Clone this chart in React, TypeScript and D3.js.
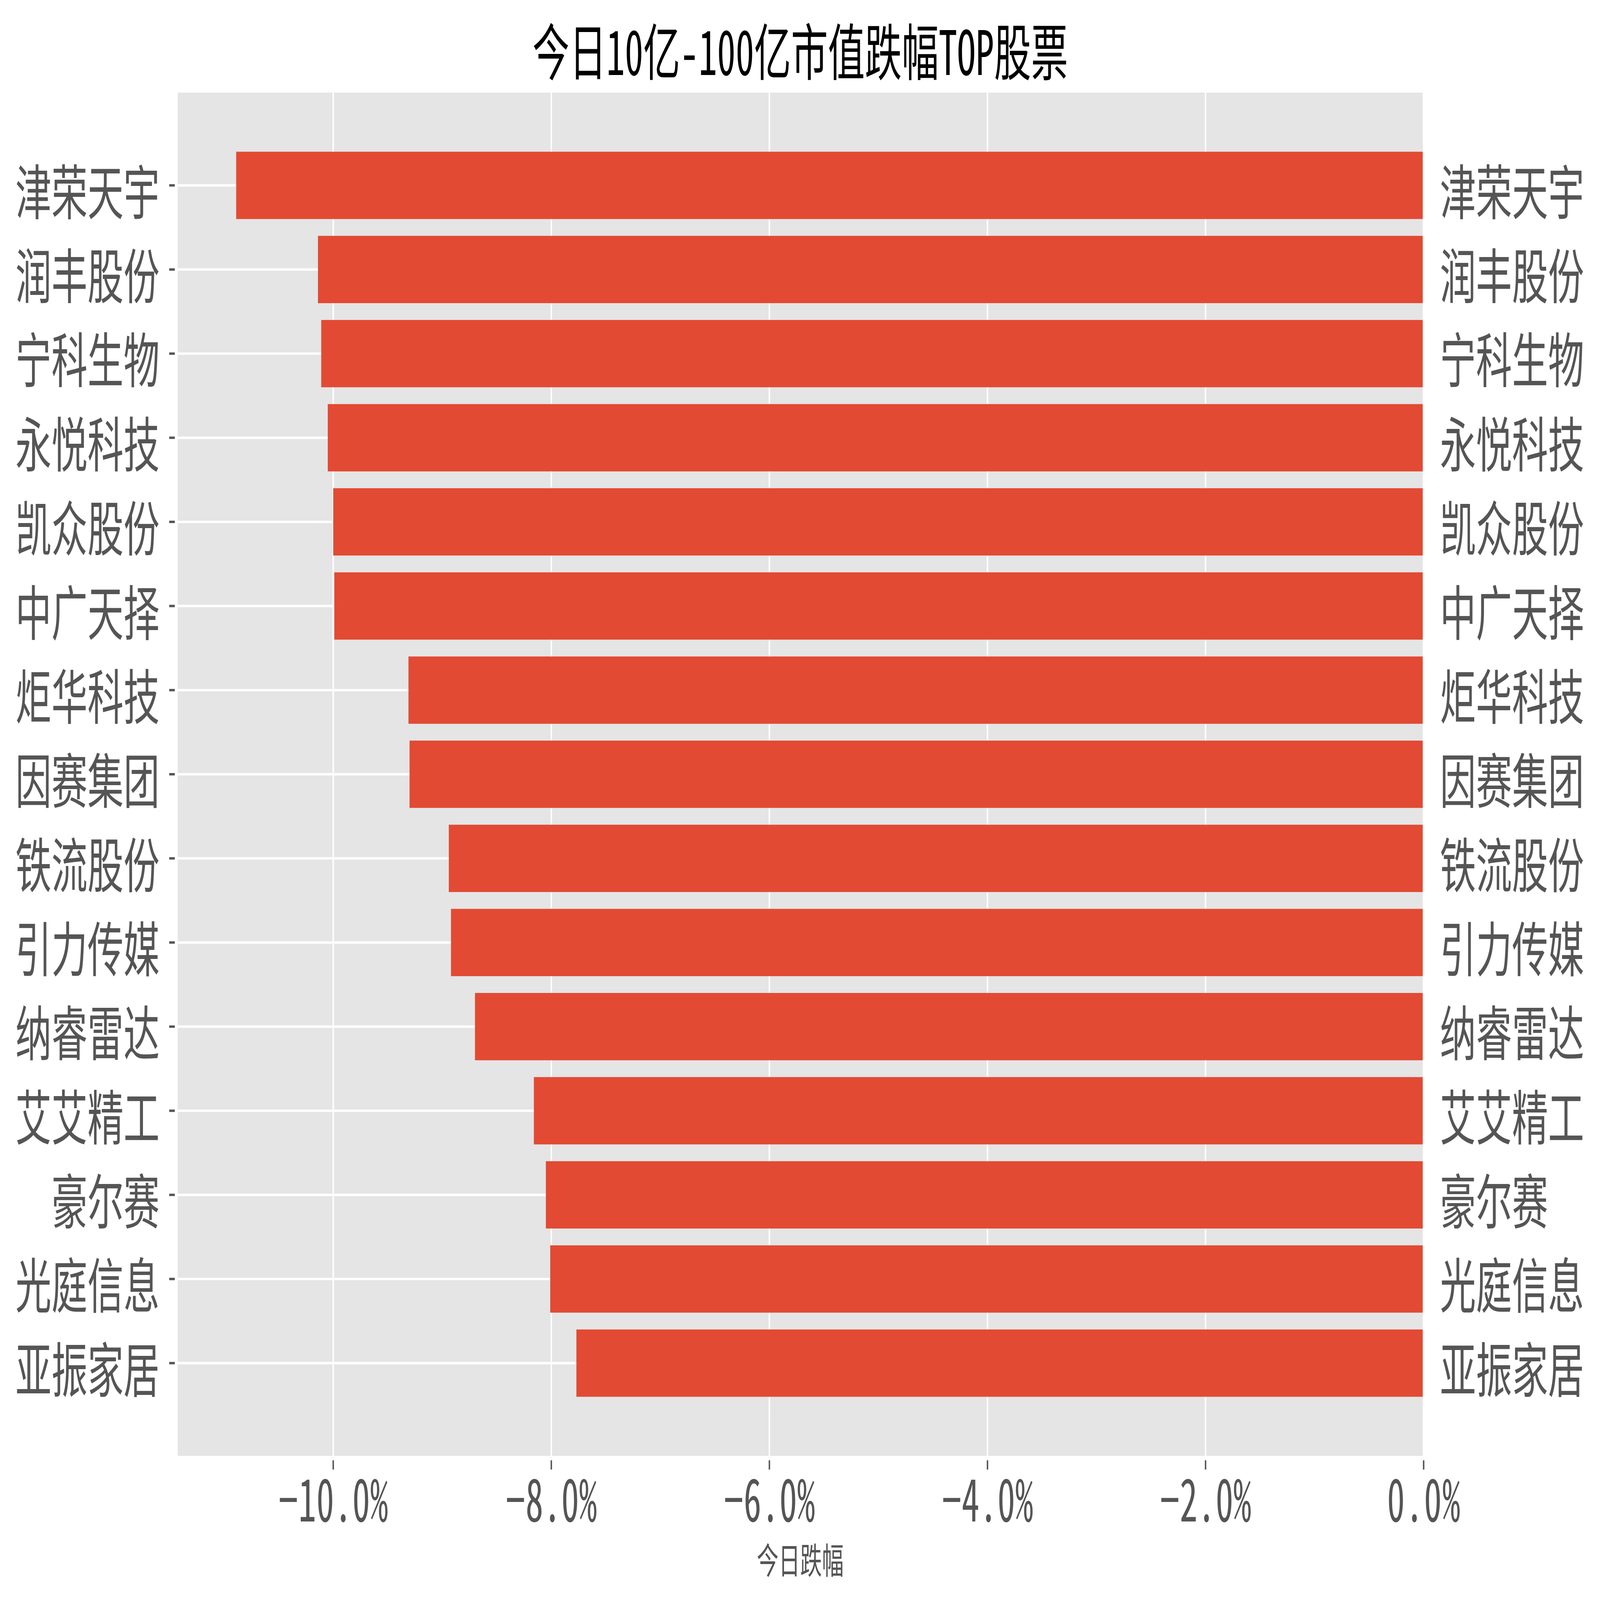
import * as d3 from "d3";

// 今日10亿-100亿市值跌幅TOP股票
const names = [
  "津荣天宇", "润丰股份", "宁科生物", "永悦科技", "凯众股份",
  "中广天择", "炬华科技", "因赛集团", "铁流股份", "引力传媒",
  "纳睿雷达", "艾艾精工", "豪尔赛", "光庭信息", "亚振家居",
];
const changes = [
  -10.89, -10.14, -10.11, -10.05, -10.0,
  -9.99, -9.31, -9.3, -8.94, -8.92,
  -8.7, -8.16, -8.05, -8.01, -7.77,
];
const xTicks = [-10, -8, -6, -4, -2, 0];

const W = 7149;
const H = 4318;
const margin = { top: 246, right: 788, bottom: 385, left: 790 };
const FONT = "'Noto Sans CJK SC', 'Noto Sans', sans-serif";
const TEXT = "#555555";
const HALF = { fontFeatureSettings: '"hwid" 1' };

function monoText(s: string, size: number) {
  // SimHei-like half-width latin: each char 0.5em
  return Array.from(s).reduce((a, c) => a + (c.charCodeAt(0) > 0x2e80 ? 1 : 0.5), 0) * size;
}

export default function App() {
  const x0 = margin.left;
  const x1 = W - margin.right;
  const y0 = margin.top;
  const y1 = H - margin.bottom;

  const xMin = (d3.min(changes) as number) * 1.05;
  const x = d3.scaleLinear().domain([xMin, 0]).range([x0, x1]);
  const pad = 1.12;
  const y = d3.scaleLinear().domain([-pad, names.length - 1 + pad]).range([y0, y1]);
  const barH = y(0.4) - y(0);

  const fmt = (v: number) => d3.format(".1f")(v).replace("-", "\u2212") + "%";

  const tickSize = 158;
  const labelSize = 161;
  const title = "今日10亿-100亿市值跌幅TOP股票";

  return (
    <div style={{ position: "fixed", left: 0, top: 0, width: "100vw", height: "100vh", background: "#fff" }}>
      <svg
        viewBox={`0 0 ${W} ${H}`}
        preserveAspectRatio="none"
        width="100%"
        height="100%"
        style={{ display: "block" }}
        fontFamily={FONT}
      >
        <rect x={0} y={0} width={W} height={H} fill="#fff" />
        <text
          x={(x0 + x1) / 2}
          y={130}
          textAnchor="middle"
          dominantBaseline="central"
          fontSize={165}
          fill="#000"
          style={HALF}
          textLength={monoText(title, 165)}
          lengthAdjust="spacing"
        >
          {title}
        </text>

        <rect x={x0} y={y0} width={x1 - x0} height={y1 - y0} fill="#E5E5E5" />

        {/* grid */}
        {xTicks.map((t) => (
          <line key={"gx" + t} x1={x(t)} x2={x(t)} y1={y0} y2={y1} stroke="#fff" strokeWidth={6.5} />
        ))}
        {names.map((n, i) => (
          <line key={"gy" + n} x1={x0} x2={x1} y1={y(i)} y2={y(i)} stroke="#fff" strokeWidth={6.5} />
        ))}

        {/* bars */}
        {changes.map((v, i) => (
          <rect
            key={names[i]}
            x={x(v)}
            y={y(i) - barH}
            width={x(0) - x(v)}
            height={barH * 2}
            fill="#E24A33"
          />
        ))}

        {/* spines */}
        <rect x={x0} y={y0} width={x1 - x0} height={y1 - y0} fill="none" stroke="#fff" strokeWidth={8} />

        {/* x ticks */}
        {xTicks.map((t) => (
          <g key={"tx" + t}>
            <line x1={x(t)} x2={x(t)} y1={y1 + 8} y2={y1 + 33} stroke={TEXT} strokeWidth={6.5} />
            <text
              x={x(t)}
              y={4106}
              textAnchor="middle"
              fontSize={tickSize}
              fill={TEXT}
              style={HALF}
              textLength={monoText(fmt(t), 163)}
              lengthAdjust="spacing"
            >
              {fmt(t)}
            </text>
          </g>
        ))}

        {/* y ticks, left and right */}
        {names.map((n, i) => (
          <g key={"ty" + n}>
            <line x1={x0 - 34} x2={x0 - 9} y1={y(i)} y2={y(i)} stroke={TEXT} strokeWidth={6.5} />
            <text x={713} y={y(i) + 8} textAnchor="end" dominantBaseline="central" fontSize={labelSize} fill={TEXT}>
              {n}
            </text>
            <text x={6434} y={y(i) + 8} textAnchor="start" dominantBaseline="central" fontSize={labelSize} fill={TEXT}>
              {n}
            </text>
          </g>
        ))}

        <text
          x={(x0 + x1) / 2}
          y={4205}
          textAnchor="middle"
          dominantBaseline="central"
          fontSize={97}
          fill={TEXT}
        >
          今日跌幅
        </text>
      </svg>
    </div>
  );
}
